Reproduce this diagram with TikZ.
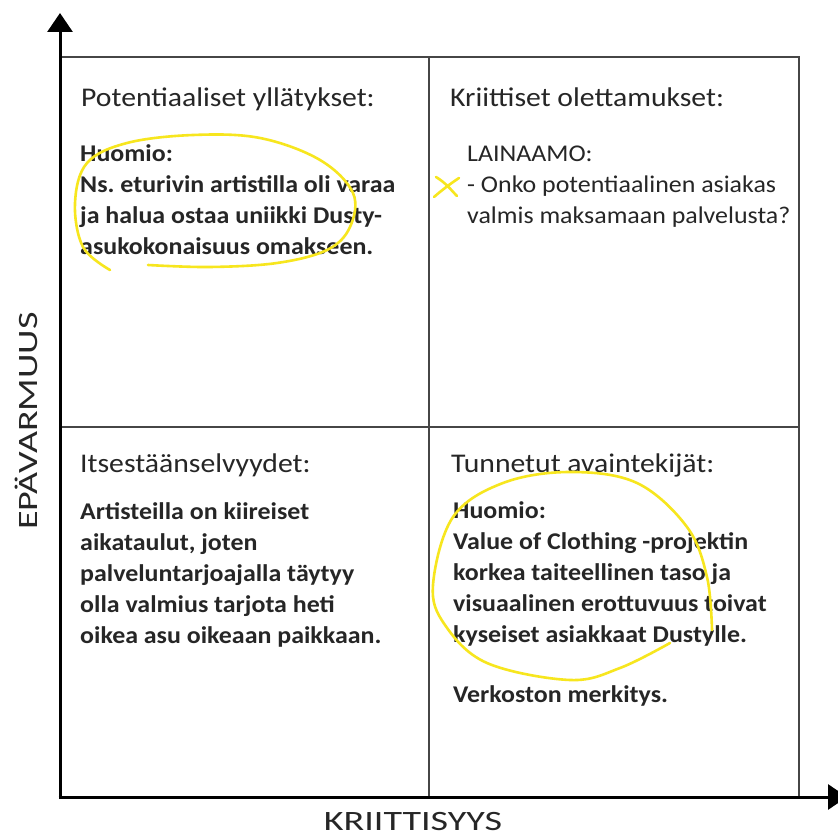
\documentclass[tikz,border=0pt]{standalone}
\usepackage{fontspec}
\setmainfont{Carlito}
\usetikzlibrary{arrows.meta}
\definecolor{gridgray}{RGB}{70,70,70}
\definecolor{marker}{RGB}{247,230,30}
\frenchspacing
% stacked lines, widened slightly; the box baseline is that of the first line
\newcommand{\textlines}[2]{\scalebox{#1}[1]{\begin{tabular}[t]{@{}l@{}}#2\end{tabular}}}
\begin{document}
\begin{tikzpicture}[x=1pt,y=-1pt,
  axis/.style={line width=3pt,black,-{Triangle[length=19pt,width=25pt]}},
  gridline/.style={line width=1.4pt,gridgray},
  title/.style={anchor=base west,inner sep=0pt,font=\fontsize{27}{31}\selectfont,text=black!85},
  body/.style={anchor=base west,inner sep=0pt,font=\fontsize{24}{31}\selectfont\bfseries,text=black!85},
  plain/.style={anchor=base west,inner sep=0pt,font=\fontsize{24}{31}\selectfont,text=black!85},
  axislabel/.style={inner sep=0pt,font=\fontsize{28}{30}\selectfont,text=black!85},
  highlight/.style={line width=2.6pt,marker,line cap=round,line join=round}]
\useasboundingbox (0,0) rectangle (838,837);
\clip (0,0) rectangle (838,837);
\fill[white] (0,0) rectangle (838,837);

% quadrant grid
\coordinate (tl) at (60,57);
\coordinate (tr) at (799,57);
\coordinate (br) at (799,797);
\coordinate (tm) at (429,57);
\coordinate (bm) at (429,797);
\coordinate (ml) at (60,427);
\coordinate (mr) at (799,427);
\draw[gridline] (tl) -- (tr) -- (br);
\draw[gridline] (tm) -- (bm);
\draw[gridline] (ml) -- (mr);

% axes
\coordinate (origin) at (60,797);
\coordinate (ytip) at (60,13);
\coordinate (xtip) at (847,797);
\draw[axis] (60,799) -- (ytip);
\draw[axis] (58.5,797) -- (xtip);

\node[axislabel,rotate=90,anchor=base] (ylab) at (37,421) {\scalebox{1.36}[1]{EPÄVARMUUS}};
\node[axislabel,anchor=base] (xlab) at (413,830) {\scalebox{1.36}[1]{KRIITTISYYS}};

% quadrant headings
\node[title] (q1) at (81,107) {\scalebox{1.1}[1]{Potentiaaliset yllätykset:}};
\node[title] (q2) at (450,107) {\scalebox{1.1}[1]{Kriittiset olettamukset:}};
\node[title] (q3) at (80,472) {\scalebox{1.1}[1]{Itsestäänselvyydet:}};
\node[title] (q4) at (451,472) {\scalebox{1.1}[1]{Tunnetut avaintekijät:}};

% quadrant contents
\node[body] (t1) at (80,162) {\textlines{1.08}{Huomio:\\Ns. eturivin artistilla oli varaa\\ja halua ostaa uniikki Dusty-\\asukokonaisuus omakseen.}};
\node[plain] (t2) at (467,162) {\textlines{1.08}{LAINAAMO:\\- Onko potentiaalinen asiakas\\valmis maksamaan palvelusta?}};
\node[body] (t3) at (80,519) {\textlines{1.08}{Artisteilla on kiireiset\\aikataulut, joten\\palveluntarjoajalla täytyy\\olla valmius tarjota heti\\oikea asu oikeaan paikkaan.}};
\node[body] (t4) at (453,518) {\textlines{1.08}{Huomio:\\Value of Clothing -projektin\\korkea taiteellinen taso ja\\visuaalinen erottuvuus toivat\\kyseiset asiakkaat Dustylle.\\[29pt]Verkoston merkitys.}};

% hand-drawn markings
\draw[highlight] plot[smooth,tension=0.6] coordinates {(110,270) (83,247) (75,203) (87,163) (127,143) (193,135) (260,138) (320,160) (353,193) (350,227) (327,250) (277,263) (210,267) (148,265)};
\draw[highlight] plot[smooth,tension=0.6] coordinates {(670,643) (620,668) (570,680) (487,663) (445,625) (433,585) (453,517) (503,483) (570,472) (637,483) (687,527) (707,577) (712,630)};
\draw[highlight] (436,177) .. controls (446,183) and (451,190) .. (457,196);
\draw[highlight] (459,178) .. controls (450,184) and (442,190) .. (434,197);
\end{tikzpicture}
\end{document}
